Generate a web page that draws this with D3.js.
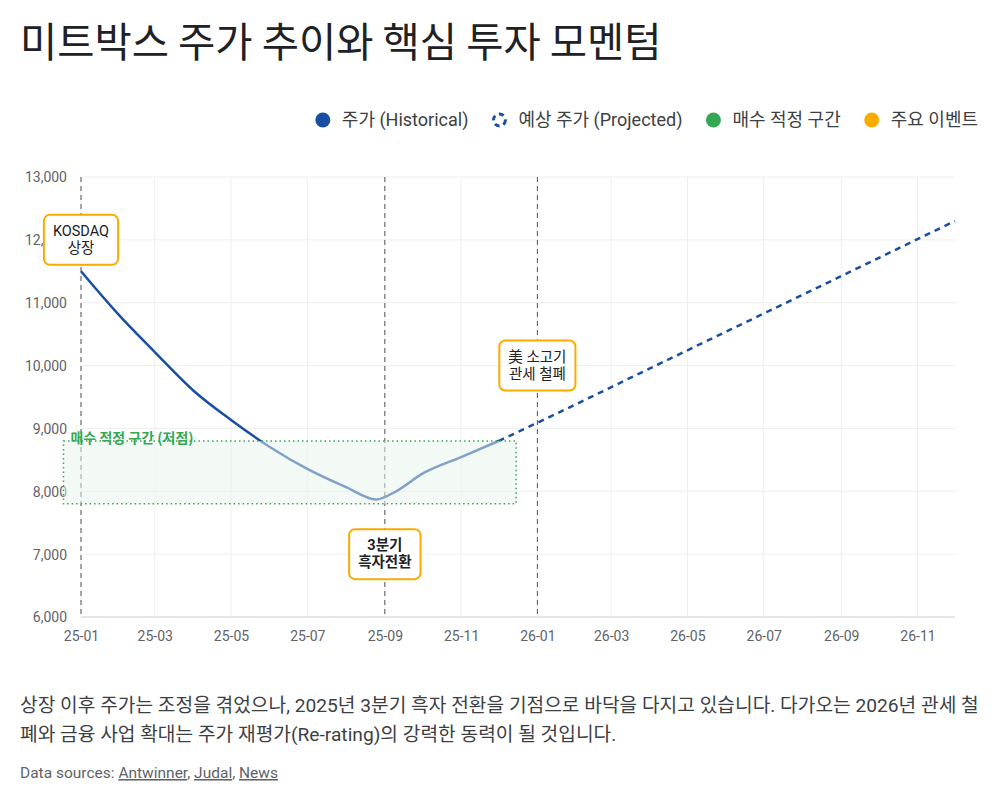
<!DOCTYPE html>
<html>
<head>
<meta charset="utf-8">
<script src="https://cdn.jsdelivr.net/npm/d3@7"></script>
<style>
  body { margin: 0; background: #fff; }
  svg { display: block; font-family: Roboto, "Noto Sans CJK KR", sans-serif; }
</style>
</head>
<body>
<div class="chart"></div>
<script>
const parse = d3.timeParse('%Y-%m-%d')

// historical price
const histDates = ['2025-01-01', '2025-02-01', '2025-03-01', '2025-04-01', '2025-05-01', '2025-06-01',
  '2025-07-01', '2025-08-01', '2025-08-25', '2025-09-10', '2025-10-01', '2025-11-01', '2025-12-01']
const histValues = [11500, 10790, 10215, 9600, 9135, 8705, 8355, 8065, 7870, 8000, 8280, 8545, 8800]

// projected price
const projDates = ['2025-12-01', '2026-01-01', '2026-04-01', '2026-08-01', '2026-12-01']
const projValues = [8800, 9090, 9955, 11125, 12300]

// buy zone
const zoneDates = ['2024-12-18', '2025-12-15']
const zoneValues = [7800, 8800]
const zoneLabel = '매수 적정 구간 (저점)'

// key events
const eventDates = ['2025-01-01', '2025-09-01', '2026-01-01']
const eventLevels = [12000, 7000, 10000]
const eventLabels = [['KOSDAQ', '상장'], ['3분기', '흑자전환'], ['美 소고기', '관세 철폐']]
const eventBold = [false, true, false]

const legendItems = ['주가 (Historical)', '예상 주가 (Projected)', '매수 적정 구간', '주요 이벤트']
const yTicks = [6000, 7000, 8000, 9000, 10000, 11000, 12000, 13000]

const width = 1000, height = 803
const blue = '#1a4ea3', green = '#34a853', orange = '#f9ab00'

const svg = d3.select('.chart')
  .append('svg')
    .attr('width', width)
    .attr('height', height)

// title
svg.append('text')
  .attr('x', 20)
  .attr('y', 57)
  .style('font-family', '"Noto Sans CJK KR", sans-serif')
  .style('font-size', '40.5px')
  .style('fill', '#202124')
  .text('미트박스 주가 추이와 핵심 투자 모멘텀')

//scales
const xScale = d3.scaleTime()
  .domain([parse('2025-01-01'), parse('2026-12-01')])
  .range([81, 955])

const yScale = d3.scaleLinear()
  .domain([6000, 13000])
  .range([617, 177])

const xTicks = xScale.ticks(d3.timeMonth.every(2))

// grid
svg.append('g')
  .selectAll('line')
  .data(yTicks)
  .enter()
  .append('line')
    .attr('x1', 81)
    .attr('x2', 955)
    .attr('y1', d => yScale(d))
    .attr('y2', d => yScale(d))
    .style('stroke', d => d === 6000 ? '#dadce0' : '#eeeeee')
    .style('stroke-width', d => d === 6000 ? 1.5 : 1)

svg.append('g')
  .selectAll('line')
  .data(xTicks)
  .enter()
  .append('line')
    .attr('x1', d => xScale(d))
    .attr('x2', d => xScale(d))
    .attr('y1', 177)
    .attr('y2', 617)
    .style('stroke', '#eeeeee')

// axes
svg.append('g')
  .attr('transform', 'translate(0, 617)')
  .call(d3.axisBottom(xScale)
    .tickValues(xTicks)
    .tickFormat(d3.timeFormat('%y-%m'))
    .tickSize(0)
    .tickPadding(14))

const yAxis = svg.append('g')
  .attr('transform', 'translate(81, 0)')
  .call(d3.axisLeft(yScale)
    .tickValues(yTicks)
    .tickFormat(d3.format(','))
    .tickSize(0)
    .tickPadding(14))

svg.selectAll('.domain').remove()
svg.selectAll('.tick text')
  .style('font-family', 'Roboto, sans-serif')
  .style('font-size', '14px')
  .style('fill', '#5f6368')
yAxis.selectAll('.tick text').attr('dy', '0.35em')

// event lines
svg.append('g')
  .selectAll('line')
  .data(eventDates)
  .enter()
  .append('line')
    .attr('x1', d => xScale(parse(d)))
    .attr('x2', d => xScale(parse(d)))
    .attr('y1', 177)
    .attr('y2', 617)
    .style('stroke', '#555')
    .style('stroke-width', 1)
    .style('stroke-dasharray', '5,4')

// lines
const hist = histDates.map((d, i) => ({ date: parse(d), value: histValues[i] }))
const proj = projDates.map((d, i) => ({ date: parse(d), value: projValues[i] }))

const line = d3.line()
  .x(d => xScale(d.date))
  .y(d => yScale(d.value))
  .curve(d3.curveMonotoneX)

svg.append('path')
  .datum(hist)
  .attr('d', line)
  .style('fill', 'none')
  .style('stroke', blue)
  .style('stroke-width', 2.5)

svg.append('path')
  .datum(proj)
  .attr('d', line)
  .style('fill', 'none')
  .style('stroke', blue)
  .style('stroke-width', 2.5)
  .style('stroke-dasharray', '6,5')

// buy zone
const zx0 = xScale(parse(zoneDates[0])), zx1 = xScale(parse(zoneDates[1]))
const zy0 = yScale(zoneValues[1]), zy1 = yScale(zoneValues[0])
svg.append('rect')
  .attr('x', zx0)
  .attr('y', zy0)
  .attr('width', zx1 - zx0)
  .attr('height', zy1 - zy0)
  .style('fill', '#e8f3ec')
  .style('fill-opacity', 0.5)
  .style('stroke', green)
  .style('stroke-width', 1.5)
  .style('stroke-dasharray', '1.5,3')

svg.append('text')
  .attr('x', zx0 + 7)
  .attr('y', zy0 + 2)
  .style('font-family', '"Noto Sans CJK KR", sans-serif')
  .style('font-size', '14px')
  .style('font-weight', 700)
  .style('fill', green)
  .text(zoneLabel)

// event boxes
eventDates.forEach((d, i) => {
  const cx = xScale(parse(d)), cy = yScale(eventLevels[i])
  const g = svg.append('g')
  const box = g.append('rect')
  const texts = g.selectAll('text')
    .data(eventLabels[i])
    .enter()
    .append('text')
      .attr('x', cx)
      .attr('y', (t, j) => cy - 4 + j * 17)
      .attr('text-anchor', 'middle')
      .style('font-family', 'Roboto, "Noto Sans CJK KR", sans-serif')
      .style('font-size', '14.5px')
      .style('font-weight', eventBold[i] ? 700 : 400)
      .style('fill', '#202124')
      .text(t => t)
  let w = 0
  texts.each(function () { w = Math.max(w, this.getComputedTextLength()) })
  w += 18
  box.attr('x', cx - w / 2)
    .attr('y', cy - 25)
    .attr('width', w)
    .attr('height', 50)
    .attr('rx', 6)
    .style('fill', '#fff')
    .style('stroke', orange)
    .style('stroke-width', 2)
})

// legend
const legend = svg.append('g')
const legendText = legend.selectAll('text')
  .data(legendItems)
  .enter()
  .append('text')
    .attr('y', 126)
    .style('font-family', 'Roboto, "Noto Sans CJK KR", sans-serif')
    .style('font-size', '18px')
    .style('fill', '#3c4043')
    .text(d => d)

const widths = []
legendText.each(function () { widths.push(this.getComputedTextLength()) })
let lx = 978
const starts = []
for (let i = widths.length - 1; i >= 0; i--) {
  lx -= widths[i]
  starts[i] = lx
  lx -= 19 + 31
}
legendText.attr('x', (d, i) => starts[i])

const markerColors = [blue, blue, green, orange]
legendItems.forEach((d, i) => {
  const mx = starts[i] - 19
  if (i === 1) {
    legend.append('circle')
      .attr('cx', mx).attr('cy', 120).attr('r', 6)
      .style('fill', 'none')
      .style('stroke', blue)
      .style('stroke-width', 3)
      .style('stroke-dasharray', '5,4')
  } else {
    legend.append('circle')
      .attr('cx', mx).attr('cy', 120).attr('r', 7.5)
      .style('fill', markerColors[i])
  }
})

// description
const desc = ['상장 이후 주가는 조정을 겪었으나, 2025년 3분기 흑자 전환을 기점으로 바닥을 다지고 있습니다. 다가오는 2026년 관세 철',
  '폐와 금융 사업 확대는 주가 재평가(Re-rating)의 강력한 동력이 될 것입니다.']
svg.selectAll('text.desc')
  .data(desc)
  .enter()
  .append('text')
    .attr('class', 'desc')
    .attr('x', 20)
    .attr('y', (d, i) => 712 + i * 29)
    .style('font-family', 'Roboto, "Noto Sans CJK KR", sans-serif')
    .style('font-size', '19.2px')
    .style('fill', '#3c4043')
    .text(d => d)

const src = svg.append('text')
  .attr('x', 20)
  .attr('y', 778)
  .style('font-family', 'Roboto, sans-serif')
  .style('font-size', '15.5px')
  .style('fill', '#5f6368')
src.append('tspan').text('Data sources: ')
src.append('tspan').style('text-decoration', 'underline').text('Antwinner')
src.append('tspan').text(', ')
src.append('tspan').style('text-decoration', 'underline').text('Judal')
src.append('tspan').text(', ')
src.append('tspan').style('text-decoration', 'underline').text('News')
</script>
</body>
</html>
